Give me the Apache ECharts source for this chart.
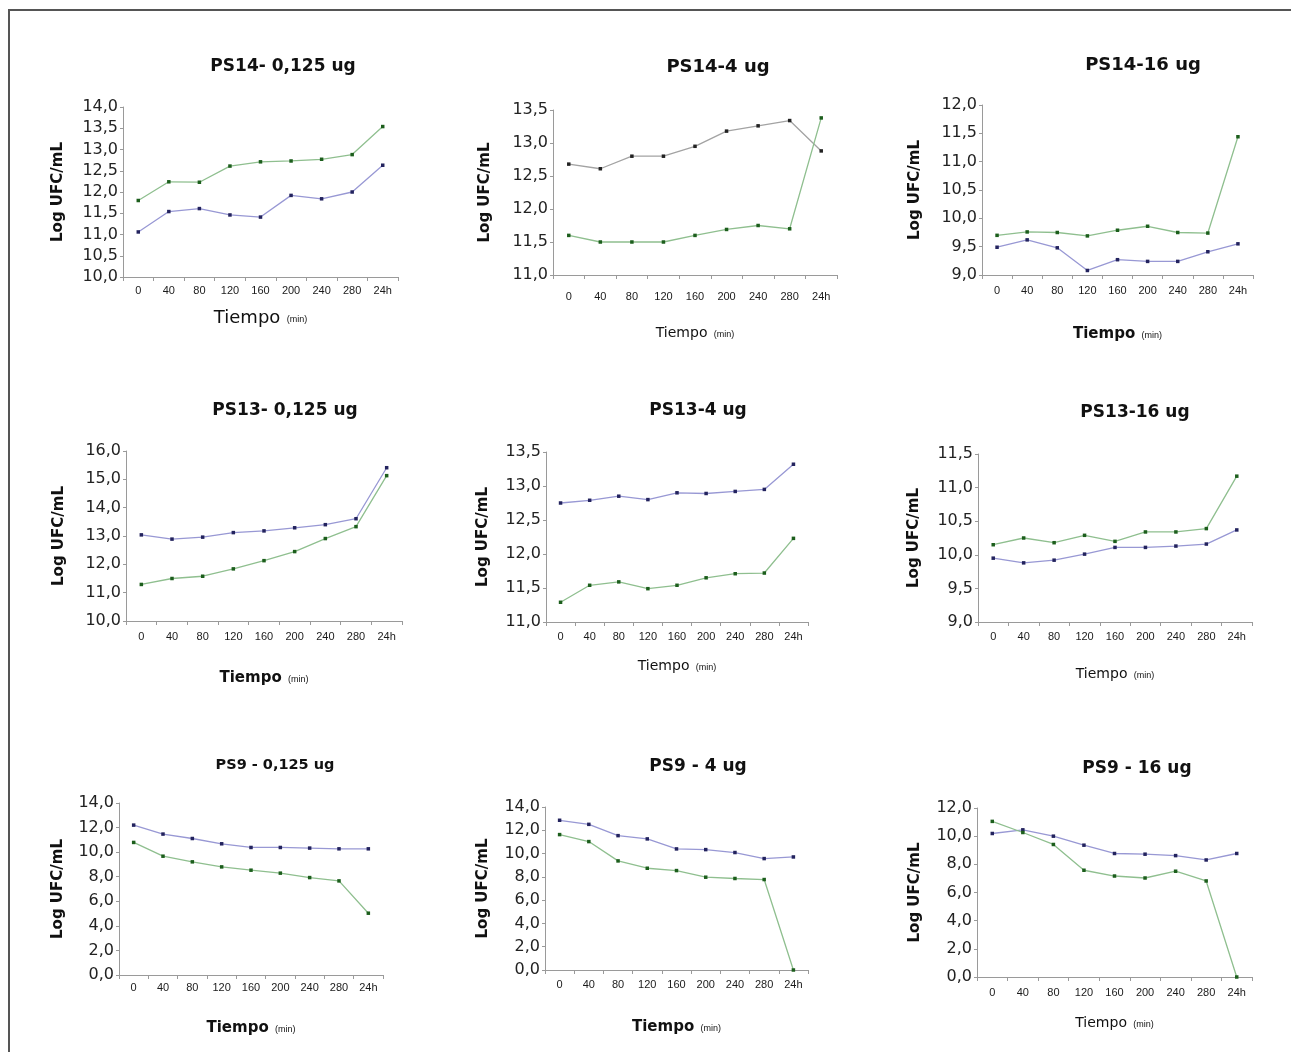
<!DOCTYPE html>
<html>
<head>
<meta charset="utf-8">
<title>Log UFC/mL vs Tiempo</title>
<script src="https://cdn.jsdelivr.net/npm/echarts@6/dist/echarts.min.js"></script>
<style>
  html, body { margin: 0; padding: 0; background: #fff; }
  #chart { width: 1291px; height: 1052px; }
</style>
</head>
<body>
<div id="chart"></div>
<script>
// categorias del eje x (minutos, y la lectura de 24 h)
const categorias = ['0', '40', '80', '120', '160', '200', '240', '280', '24h'];

const titulos = [
  'PS14- 0,125 ug', 'PS14-4 ug', 'PS14-16 ug',
  'PS13- 0,125 ug', 'PS13-4 ug', 'PS13-16 ug',
  'PS9 - 0,125 ug', 'PS9 - 4 ug', 'PS9 - 16 ug'
];

// serie superior / azul (gris en PS14-4) y serie verde
const ps14_0125_azul  = [11.06, 11.54, 11.61, 11.46, 11.41, 11.92, 11.84, 12.00, 12.63];
const ps14_0125_verde = [11.80, 12.24, 12.23, 12.61, 12.71, 12.73, 12.77, 12.88, 13.54];
const ps14_4_gris     = [12.68, 12.61, 12.80, 12.80, 12.95, 13.18, 13.26, 13.34, 12.88];
const ps14_4_verde    = [11.60, 11.50, 11.50, 11.50, 11.60, 11.69, 11.75, 11.70, 13.38];
const ps14_16_azul    = [9.49, 9.62, 9.48, 9.08, 9.27, 9.24, 9.24, 9.41, 9.55];
const ps14_16_verde   = [9.70, 9.76, 9.75, 9.69, 9.79, 9.86, 9.75, 9.74, 11.44];

const ps13_0125_azul  = [13.04, 12.89, 12.96, 13.12, 13.18, 13.29, 13.40, 13.61, 15.41];
const ps13_0125_verde = [11.29, 11.50, 11.58, 11.84, 12.13, 12.45, 12.91, 13.33, 15.13];
const ps13_4_azul     = [12.75, 12.79, 12.85, 12.80, 12.90, 12.89, 12.92, 12.95, 13.32];
const ps13_4_verde    = [11.29, 11.54, 11.59, 11.49, 11.54, 11.65, 11.71, 11.72, 12.23];
const ps13_16_azul    = [9.95, 9.88, 9.92, 10.01, 10.11, 10.11, 10.13, 10.16, 10.37];
const ps13_16_verde   = [10.15, 10.25, 10.18, 10.29, 10.20, 10.34, 10.34, 10.39, 11.17];

const ps9_0125_azul   = [12.20, 11.47, 11.11, 10.68, 10.38, 10.38, 10.33, 10.27, 10.27];
const ps9_0125_verde  = [10.79, 9.67, 9.21, 8.80, 8.53, 8.29, 7.93, 7.66, 5.03];
const ps9_4_azul      = [12.86, 12.51, 11.54, 11.26, 10.40, 10.34, 10.09, 9.57, 9.71];
const ps9_4_verde     = [11.63, 11.03, 9.37, 8.74, 8.54, 7.97, 7.86, 7.77, 0.00];
const ps9_16_azul     = [10.19, 10.45, 10.00, 9.36, 8.77, 8.72, 8.62, 8.31, 8.77];
const ps9_16_verde    = [11.05, 10.26, 9.41, 7.58, 7.17, 7.03, 7.51, 6.82, 0.00];

const ejeMin = [10, 11, 9, 10, 11, 9, 0, 0, 0];
const ejeMax = [14, 13.5, 12, 16, 13.5, 11.5, 14, 14, 12];
const ejePaso = [0.5, 0.5, 0.5, 1, 0.5, 0.5, 2, 2, 2];

const superiores = [ps14_0125_azul, ps14_4_gris, ps14_16_azul,
  ps13_0125_azul, ps13_4_azul, ps13_16_azul, ps9_0125_azul, ps9_4_azul, ps9_16_azul];
const verdes = [ps14_0125_verde, ps14_4_verde, ps14_16_verde,
  ps13_0125_verde, ps13_4_verde, ps13_16_verde, ps9_0125_verde, ps9_4_verde, ps9_16_verde];

// posición de cada panel (px): grid, título, huecos de etiquetas y nombres
const layout = [
  { l: 123, t: 107, w: 275, h: 170, tx: 278, ty: 62,  ts: 17, lm: 8,  xg: 32, yg: 57, tf: 18, bold: false },
  { l: 553, t: 110, w: 284, h: 165, tx: 713, ty: 62,  ts: 18, lm: 16, xg: 51, yg: 60, tf: 14, bold: false },
  { l: 982, t: 105, w: 271, h: 170, tx: 1138, ty: 60, ts: 18, lm: 10, xg: 52, yg: 59, tf: 15, bold: true },
  { l: 126, t: 451, w: 276, h: 170, tx: 280, ty: 406, ts: 17, lm: 10, xg: 50, yg: 59, tf: 15, bold: true },
  { l: 546, t: 452, w: 262, h: 170, tx: 693, ty: 406, ts: 17, lm: 9,  xg: 37, yg: 55, tf: 14, bold: false },
  { l: 978, t: 454, w: 274, h: 168, tx: 1130, ty: 408, ts: 17, lm: 9, xg: 45, yg: 56, tf: 14, bold: false },
  { l: 119, t: 803, w: 264, h: 172, tx: 270, ty: 760, ts: 14.5, lm: 7, xg: 46, yg: 53, tf: 15, bold: true },
  { l: 545, t: 807, w: 263, h: 163, tx: 693, ty: 762, ts: 17, lm: 9,  xg: 50, yg: 54, tf: 15, bold: true },
  { l: 977, t: 808, w: 275, h: 169, tx: 1132, ty: 764, ts: 17, lm: 10, xg: 39, yg: 54, tf: 14, bold: false }
];

const AXIS = '#9a9a9a';
const WIDE = '"DejaVu Sans", Verdana, sans-serif';
const NARROW = '"Liberation Sans", Arial, sans-serif';

const chart = echarts.init(document.getElementById('chart'), null, { renderer: 'canvas' });

const grid = [], xAxis = [], yAxis = [], series = [], title = [];

layout.forEach((p, i) => {
  grid.push({ left: p.l, top: p.t, width: p.w, height: p.h, containLabel: false });
  title.push({
    text: titulos[i], left: p.tx, top: p.ty, textAlign: 'center', textVerticalAlign: 'middle',
    textStyle: { fontFamily: WIDE, fontSize: p.ts, fontWeight: 'bold', color: '#111' }
  });
  xAxis.push({
    type: 'category', gridIndex: i, data: categorias, boundaryGap: true,
    name: '{a|Tiempo} {b|(min)}', nameLocation: 'middle', nameGap: p.xg,
    nameTextStyle: {
      rich: {
        a: { fontFamily: WIDE, fontSize: p.tf, fontWeight: p.bold ? 'bold' : 'normal', color: '#111' },
        b: { fontFamily: NARROW, fontSize: 9, color: '#111', padding: [3, 0, 0, 3] }
      }
    },
    axisLine: { lineStyle: { color: AXIS, width: 1 } },
    axisTick: { show: true, interval: 0, length: 4, lineStyle: { color: AXIS } },
    axisLabel: { interval: 0, margin: p.lm, fontFamily: NARROW, fontSize: 11, color: '#1a1a1a' },
    splitLine: { show: false }
  });
  yAxis.push({
    type: 'value', gridIndex: i, min: ejeMin[i], max: ejeMax[i], interval: ejePaso[i],
    name: 'Log UFC/mL', nameLocation: 'middle', nameGap: p.yg, nameRotate: 90,
    nameTextStyle: { fontFamily: WIDE, fontSize: 15, fontWeight: 'bold', color: '#111' },
    axisLine: { show: true, lineStyle: { color: AXIS, width: 1 } },
    axisTick: { show: true, length: 3, lineStyle: { color: AXIS } },
    axisLabel: {
      margin: 5, fontFamily: WIDE, fontSize: 16, color: '#222',
      formatter: (v) => v.toFixed(1).replace('.', ',')
    },
    splitLine: { show: false }
  });
  const gris = i === 1;
  series.push({
    type: 'line', xAxisIndex: i, yAxisIndex: i, data: superiores[i],
    symbol: 'rect', symbolSize: 3.5, showAllSymbol: true, silent: true,
    lineStyle: { color: gris ? '#a3a3a3' : '#9898d4', width: 1.3 },
    itemStyle: { color: gris ? '#222222' : '#23235e' }
  });
  series.push({
    type: 'line', xAxisIndex: i, yAxisIndex: i, data: verdes[i],
    symbol: 'rect', symbolSize: 3.5, showAllSymbol: true, silent: true,
    lineStyle: { color: '#8fbf8f', width: 1.3 },
    itemStyle: { color: '#1c5e1c' }
  });
});

chart.setOption({
  animation: false,
  backgroundColor: '#fff',
  title, grid, xAxis, yAxis, series,
  graphic: [{
    type: 'polyline', silent: true,
    shape: { points: [[9, 1060], [9, 10], [1300, 10]] },
    style: { stroke: '#555', lineWidth: 2, fill: null }
  }]
});
</script>
</body>
</html>
